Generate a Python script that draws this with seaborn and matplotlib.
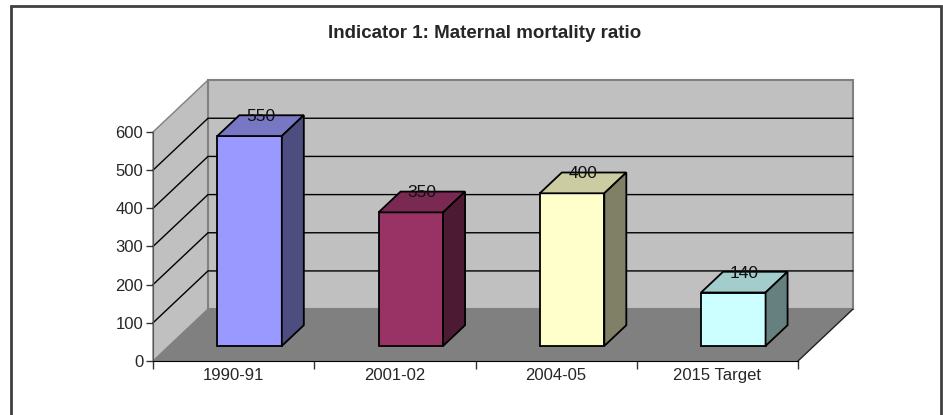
import matplotlib
matplotlib.use('Agg')
import matplotlib.pyplot as plt
import seaborn as sns
from matplotlib.patches import Polygon, Rectangle

# Data
categories = ['1990-91', '2001-02', '2004-05', '2015 Target']
values = [550, 350, 400, 140]
front_colors = ['#9999FF', '#993366', '#FFFFCC', '#CCFFFF']
top_colors = ['#7777C4', '#7A2952', '#CCCCA3', '#A3CCCC']
side_colors = ['#4D4D80', '#4D1A33', '#808066', '#668080']
y_ticks = [0, 100, 200, 300, 400, 500, 600]
title = 'Indicator 1: Maternal mortality ratio'

sns.set_style('white')
plt.rcParams['font.family'] = ['Liberation Sans', 'DejaVu Sans']

# 3D look: depth offset of the floor in data units
DX, DY = 0.341, 136.0
D0, D1 = 0.29, 0.69   # front / back depth of the bars
YMAX = 600
x0, x1 = -0.5, len(categories) - 0.5


def proj(x, v, d):
    return (x + d * DX, v + d * DY)


fig = plt.figure(figsize=(9.43, 4.15), dpi=100)
ax = fig.add_axes([153 / 943, 1 - 361 / 415, 645 / 943, 229 / 415])
ax.set_facecolor('none')

# Walls and floor
wall = '#C0C0C0'
ax.add_patch(Polygon([proj(x0, 0, 0), proj(x0, YMAX, 0), proj(x0, YMAX, 1), proj(x0, 0, 1)],
                     closed=True, fc=wall, ec='#808080', lw=1, clip_on=False, zorder=0.5))
ax.add_patch(Polygon([proj(x0, 0, 1), proj(x1, 0, 1), proj(x1, YMAX, 1), proj(x0, YMAX, 1)],
                     closed=True, fc=wall, ec='#808080', lw=1.5, clip_on=False, zorder=0.5))
ax.add_patch(Polygon([proj(x0, 0, 0), proj(x1, 0, 0), proj(x1, 0, 1), proj(x0, 0, 1)],
                     closed=True, fc='#808080', ec='none', clip_on=False, zorder=0.6))
ax.plot(*zip(proj(x1, 0, 0), proj(x1, 0, 1)), color='#202020', lw=1, clip_on=False, zorder=0.7)

# Gridlines on the walls
for v in y_ticks[1:-1]:
    pts = [proj(x0, v, 0), proj(x0, v, 1), proj(x1, v, 1)]
    ax.plot([p[0] for p in pts], [p[1] for p in pts], color='black', lw=1,
            clip_on=False, zorder=0.7)

# Front faces of the bars
sns.barplot(x=categories, y=values, hue=categories, palette=front_colors, legend=False,
            width=0.4, edgecolor='black', linewidth=1.3, saturation=1, ax=ax, zorder=3)

bars = [b for c in ax.containers for b in c]
for i, bar in enumerate(bars):
    bx, bw, h = bar.get_x(), bar.get_width(), bar.get_height()
    bar.set_x(bx + D0 * DX)
    bar.set_y(D0 * DY)
    bar.set_clip_on(False)
    left, right = bx, bx + bw
    top = [proj(left, h, D0), proj(right, h, D0), proj(right, h, D1), proj(left, h, D1)]
    side = [proj(right, 0, D0), proj(right, h, D0), proj(right, h, D1), proj(right, 0, D1)]
    ax.add_patch(Polygon(top, closed=True, fc=top_colors[i], ec='black', lw=1.3,
                         clip_on=False, zorder=3))
    ax.add_patch(Polygon(side, closed=True, fc=side_colors[i], ec='black', lw=1.3,
                         clip_on=False, zorder=3))
    lx, ly = proj(bx + bw / 2, h, (D0 + D1) / 2)
    ax.text(lx, ly + 4, str(values[i]), ha='center', va='bottom', fontsize=12.5,
            color='#111111', zorder=5, clip_on=False)

# Axes styling
ax.set_xlim(x0, x1)
ax.set_ylim(0, YMAX)
ax.set_yticks(y_ticks)
ax.set_yticklabels([str(t) for t in y_ticks], fontsize=12)
ax.set_xticks([x0 + k for k in range(len(categories) + 1)])
ax.set_xticklabels([])
ax.set_xticks(range(len(categories)), minor=True)
ax.set_xticklabels(categories, minor=True, fontsize=12)
ax.tick_params(axis='y', direction='out', length=5, width=1, color='#333333', pad=2, left=True)
ax.tick_params(axis='x', which='major', direction='out', length=6, width=1,
               color='#333333', bottom=True)
ax.tick_params(axis='x', which='minor', length=0, pad=5)
ax.set_xlabel('')
ax.set_ylabel('')
for s in ['top', 'right']:
    ax.spines[s].set_visible(False)
ax.spines['left'].set_color('#555555')
ax.spines['bottom'].set_color('black')
ax.spines['left'].set_zorder(0.8)

fig.text(485 / 943, 1 - 33 / 415, title, ha='center', va='center',
         fontsize=13.5, fontweight='bold')

# Outer frame
fig.patches.append(Rectangle((11 / 943, -0.01), 930 / 943, 1 - 6 / 415 + 0.01,
                             transform=fig.transFigure, fill=False, ec='#404040', lw=2))

fig.savefig('out.png', dpi=100)
